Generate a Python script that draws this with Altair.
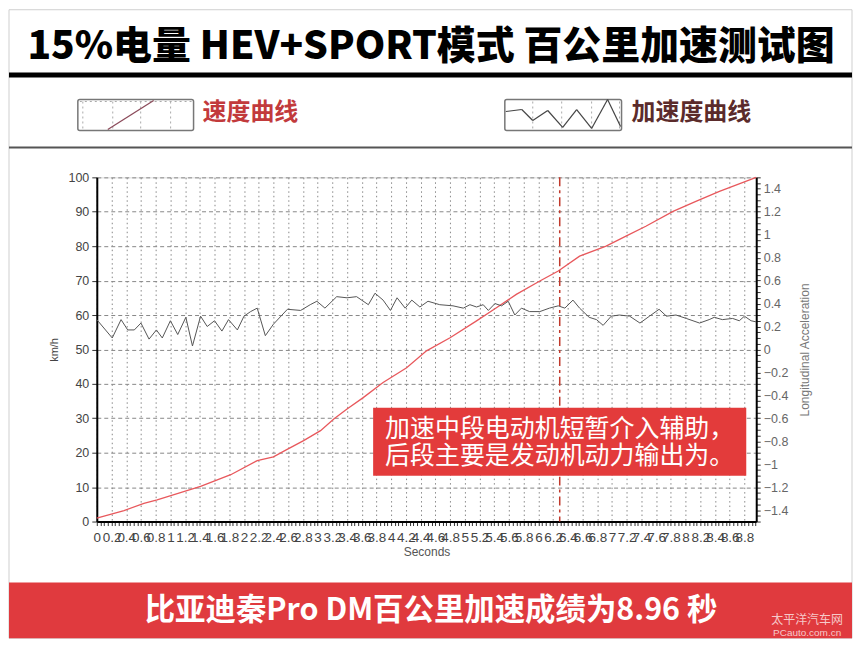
import altair as alt
import pandas as pd

# ---------------- data ----------------
speed_t = [0.0, 0.37, 0.64, 0.82, 1.41, 1.82, 2.18, 2.40, 2.58, 2.81, 3.04, 3.22, 3.40, 3.62,
           3.89, 4.21, 4.48, 4.80, 5.16, 5.43, 5.70, 6.02, 6.27, 6.56, 6.92, 7.19, 7.46, 7.83,
           8.14, 8.46, 8.96]
speed_v = [1.0, 3.2, 5.3, 6.3, 10.2, 13.6, 17.7, 18.8, 20.9, 23.5, 26.4, 29.8, 32.7, 36.0,
           40.4, 44.7, 49.6, 53.4, 58.3, 62.1, 66.0, 69.9, 72.8, 77.1, 80.0, 82.9, 85.8, 90.1,
           93.0, 95.9, 100.0]

accel_t = [0.0, 0.21, 0.33, 0.42, 0.51, 0.60, 0.71, 0.81, 0.89, 1.00, 1.10, 1.21, 1.30, 1.41,
           1.50, 1.60, 1.70, 1.79, 1.91, 2.00, 2.09, 2.18, 2.29, 2.40, 2.59, 2.77, 2.90, 2.99,
           3.10, 3.26, 3.40, 3.53, 3.69, 3.78, 3.89, 3.99, 4.08, 4.19, 4.28, 4.39, 4.50, 4.66,
           4.84, 4.98, 5.07, 5.16, 5.25, 5.32, 5.41, 5.50, 5.59, 5.68, 5.77, 5.88, 6.02, 6.15,
           6.27, 6.36, 6.47, 6.56, 6.69, 6.79, 6.88, 6.99, 7.10, 7.24, 7.38, 7.51, 7.64, 7.74,
           7.87, 8.01, 8.19, 8.32, 8.39, 8.50, 8.64, 8.73, 8.80, 8.89, 8.96]
accel_a = [0.26, 0.10, 0.26, 0.17, 0.17, 0.23, 0.09, 0.17, 0.10, 0.25, 0.13, 0.28, 0.03, 0.29,
           0.20, 0.25, 0.16, 0.26, 0.17, 0.29, 0.33, 0.36, 0.12, 0.22, 0.35, 0.34, 0.39, 0.42,
           0.36, 0.46, 0.45, 0.46, 0.39, 0.49, 0.43, 0.34, 0.45, 0.36, 0.43, 0.37, 0.42, 0.39,
           0.38, 0.36, 0.39, 0.37, 0.39, 0.34, 0.40, 0.38, 0.42, 0.30, 0.36, 0.33, 0.33, 0.36,
           0.38, 0.36, 0.43, 0.36, 0.28, 0.26, 0.21, 0.29, 0.30, 0.29, 0.23, 0.29, 0.35, 0.29,
           0.30, 0.27, 0.23, 0.26, 0.28, 0.26, 0.27, 0.25, 0.29, 0.25, 0.24]

marker_t = [6.29]

left_ticks = [0, 10, 20, 30, 40, 50, 60, 70, 80, 90, 100]
x_minor_ticks = [round(i * 0.05, 2) for i in range(180)]
right_minor_ticks = [round(-1.5 + i * 0.05, 2) for i in range(61)]

title_text = "15%电量 HEV+SPORT模式 百公里加速测试图"
legend_speed = "速度曲线"
legend_accel = "加速度曲线"
note_lines = ["加速中段电动机短暂介入辅助，", "后段主要是发动机动力输出为。"]
banner_text = "比亚迪秦Pro DM百公里加速成绩为8.96 秒"
wm1, wm2 = "太平洋汽车网", "PCauto.com.cn"

speed_df = pd.DataFrame({"t": speed_t, "v": speed_v})
accel_df = pd.DataFrame({"t": accel_t, "a": accel_a})
marker_df = pd.DataFrame({"t": marker_t})
one = pd.DataFrame({"d": [0]})

W, H = 661, 345
CJK = "Noto Sans CJK SC"
SANS = "Liberation Sans"

major_test = "abs(datum.value*5 - round(datum.value*5)) < 0.001"

x_scale = alt.Scale(domain=[0, 8.96], nice=False, zero=False)
x_axis = alt.Axis(
    values=x_minor_ticks,
    labelExpr=f"({major_test}) && datum.value < 8.85 ? format(datum.value, '~g') : ''",
    labelOverlap=False, labelBound=False, labelFlush=False,
    labelFont=SANS, labelFontSize=13.5, labelColor="#444", labelPadding=5,
    tickSize=4, tickColor="#333",
    domainColor="black", domainWidth=2,
    grid=True,
    gridOpacity={"condition": {"test": major_test, "value": 1}, "value": 0},
    gridDash=[1.5, 3], gridColor="#888", gridWidth=1,
    title="Seconds", titleFont=SANS, titleFontSize=12, titleFontWeight="normal",
    titleColor="#555", titlePadding=3,
)
X = alt.X("t:Q", scale=x_scale, axis=x_axis)

speed = alt.Chart(speed_df).mark_line(color="#e8585c", strokeWidth=1.3).encode(
    x=X,
    y=alt.Y("v:Q", scale=alt.Scale(domain=[0, 100], nice=False),
            axis=alt.Axis(values=left_ticks, orient="left", grid=True, gridDash=[4, 3],
                          gridColor="#888", gridWidth=1, tickSize=5, tickColor="#333",
                          domainColor="black", domainWidth=2,
                          labelFont=SANS, labelFontSize=12.5, labelColor="#444", labelPadding=3,
                          title="km/h", titleFont=SANS, titleFontSize=11,
                          titleFontWeight="normal", titleColor="#444", titlePadding=9)),
)

accel = alt.Chart(accel_df).mark_line(color="#555", strokeWidth=1).encode(
    x=X,
    y=alt.Y("a:Q", scale=alt.Scale(domain=[-1.5, 1.5], nice=False),
            axis=alt.Axis(values=right_minor_ticks, orient="right", grid=False,
                          labelExpr=f"({major_test}) && abs(datum.value) < 1.45 ? format(datum.value, '~g') : ''",
                          labelOverlap=False, labelBound=False, labelFlush=False,
                          tickSize=4, tickColor="#333", domainColor="black", domainWidth=2,
                          labelFont=SANS, labelFontSize=12.5, labelColor="#666", labelPadding=3,
                          title="Longitudinal Acceleration", titleAngle=270,
                          titleFont=SANS, titleFontSize=12, titleFontWeight="normal",
                          titleColor="#777", titlePadding=24)),
)

marker = alt.Chart(marker_df).mark_rule(color="#c0392b", strokeWidth=1.5,
                                        strokeDash=[9, 4, 3, 4]).encode(x=X)

def rect(x, x2, y, y2, **kw):
    return alt.Chart(one).mark_rect(**kw).encode(
        x=alt.value(x), x2=alt.value(x2), y=alt.value(y), y2=alt.value(y2))

def seg(x, y, x2, y2, **kw):
    return alt.Chart(one).mark_rule(**kw).encode(
        x=alt.value(x), y=alt.value(y), x2=alt.value(x2), y2=alt.value(y2))

def text(s, x, y, **kw):
    return alt.Chart(one).mark_text(**kw).encode(
        x=alt.value(x), y=alt.value(y), text=alt.value(s))

deco = []
# outer frame (page 8..853 x 8..639)
deco.append(rect(-88, 757, -168, 462, fill="white", fillOpacity=0, stroke="#cfcfcf", strokeWidth=1))
# title + rules
deco.append(text(title_text, 335, -131, font=CJK, fontSize=39, fontWeight=900, color="black",
                 align="center", baseline="middle"))
deco.append(rect(-88, 757, -105, -100, fill="black"))
deco.append(rect(-88, 757, -31, -29, fill="#555"))
# legend 1
deco.append(rect(-19, 97, -78, -47, fill="white", stroke="#777", strokeWidth=1.5, cornerRadius=2))
for gx in [-14, 16, 44, 74]:
    deco.append(seg(gx, -76, gx, -49, color="#aaa", strokeDash=[2, 3], strokeWidth=1))
deco.append(seg(-17, -76, 95, -76, color="#aaa", strokeDash=[2, 3], strokeWidth=1))
deco.append(seg(11, -48, 57, -77, color="#8b4a5a", strokeWidth=1.3))
deco.append(text(legend_speed, 106, -64, font=CJK, fontSize=24, fontWeight="bold",
                 color="#c23a3c", align="left", baseline="middle"))
# legend 2
deco.append(rect(409, 526, -78, -47, fill="white", stroke="#777", strokeWidth=1.5, cornerRadius=2))
for gx in [437, 466, 496, 524]:
    deco.append(seg(gx, -76, gx, -49, color="#aaa", strokeDash=[2, 3], strokeWidth=1))
zz = [(410, -66), (426, -68), (437, -57), (452, -67), (467, -50), (481, -68),
      (496, -49), (512, -78), (525, -51)]
for (ax, ay), (bx, by) in zip(zz[:-1], zz[1:]):
    deco.append(seg(ax, ay, bx, by, color="#444", strokeWidth=1.2))
deco.append(text(legend_accel, 536, -64, font=CJK, fontSize=24, fontWeight="bold",
                 color="#5b2b2b", align="left", baseline="middle"))

# annotation box
note = [rect(277, 651, 231, 299, fill="#e33b3b")]
note.append(text(note_lines[0], 289, 252, font=CJK, fontSize=25, color="white",
                 align="left", baseline="middle"))
note.append(text(note_lines[1], 289, 279, font=CJK, fontSize=25, color="white",
                 align="left", baseline="middle"))

# bottom banner
banner = [rect(-88, 757, 406, 462, fill="#e03a3e")]
banner.append(text(banner_text, 335, 435, font=CJK, fontSize=30.5, fontWeight="bold",
                   color="white", align="center", baseline="middle"))
banner.append(text(wm1, 712, 444, font=CJK, fontSize=12, color="#f6c9c9",
                   align="center", baseline="middle"))
banner.append(text(wm2, 712, 457, font=SANS, fontSize=10, color="#f6c9c9",
                   align="center", baseline="middle"))

chart = alt.layer(*deco, speed, accel, marker, *note, *banner).resolve_scale(
    y="independent"
).properties(
    width=W, height=H, padding=0
).configure_view(
    stroke="black", strokeWidth=1.5
).configure(background="white")

chart.save("out.html", embed_options={"renderer": "svg", "actions": False})
